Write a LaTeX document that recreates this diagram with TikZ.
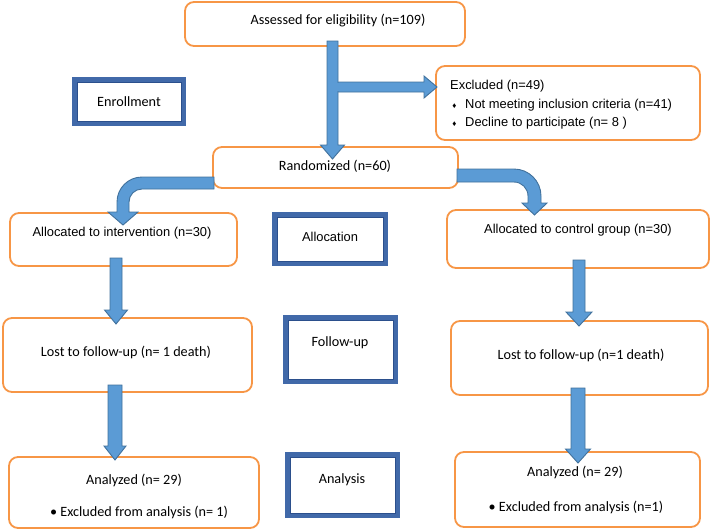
\documentclass[tikz,border=0pt]{standalone}
\usepackage{fontspec}
\setmainfont{Carlito}
\newfontfamily\arialf{Liberation Sans}
\usetikzlibrary{calc}
\definecolor{orng}{HTML}{F79646}
\definecolor{afill}{HTML}{5B9BD5}
\definecolor{aline}{HTML}{41719C}
\definecolor{pband}{HTML}{4169A9}
\definecolor{pline}{HTML}{2B4F8C}
\newcommand\vblk[7]{%
\path[blk] let \p1=(#1.south), \p2=(#2.north) in
 (#3pt-#4pt, \y1+#6pt) -- (#3pt+#4pt, \y1+#6pt) -- (#3pt+#4pt, \y2-#7pt+14pt) -- (#3pt+#5pt, \y2-#7pt+14pt) -- (#3pt, \y2-#7pt) -- (#3pt-#5pt, \y2-#7pt+14pt) -- (#3pt-#4pt, \y2-#7pt+14pt) -- cycle;}
\newcommand\pinner[1]{\draw[pline, line width=0.8pt] ($(#1.north west)+(2.2,2.2)$) rectangle ($(#1.south east)+(-2.2,-2.2)$);}
\begin{document}
\begin{tikzpicture}[x=1pt,y=-1pt,
 obox/.style={draw=orng, line width=1.8pt, rounded corners=9pt, fill=white, anchor=north west, inner sep=0, outer sep=0},
 pbox/.style={draw=pband, line width=5.5pt, fill=white, inner sep=0, outer sep=0, anchor=north west},
 txt/.style={inner sep=0, font=\fontsize{14.2}{16}\selectfont},
 atxt/.style={inner sep=0, font=\arialf\fontsize{12.9}{15}\selectfont},
 blk/.style={fill=afill, draw=aline, line width=0.9pt, line join=miter}]
\useasboundingbox (0,0) rectangle (712,531);
% process boxes
\node[obox, minimum width=280, minimum height=44] (assess) at (185,2) {};
\node[obox, minimum width=264, minimum height=74] (excl) at (436,66) {};
\node[obox, minimum width=245, minimum height=41] (rand) at (213,147) {};
\node[obox, minimum width=227, minimum height=53] (int) at (10,213) {};
\node[obox, minimum width=262, minimum height=58] (ctrl) at (447,210) {};
\node[obox, minimum width=249, minimum height=74] (lostL) at (3,318) {};
\node[obox, minimum width=257, minimum height=74] (lostR) at (451,321) {};
\node[obox, minimum width=250, minimum height=71] (anaL) at (9,457) {};
\node[obox, minimum width=245, minimum height=75] (anaR) at (455,452) {};
% phase boxes
\node[pbox, minimum width=108.5, minimum height=43.5] (enroll) at (74.75,79.75) {};
\node[pbox, minimum width=110.5, minimum height=48.5] (alloc) at (274.75,214.75) {};
\node[pbox, minimum width=109.5, minimum height=63.5] (fu) at (285.75,317.75) {};
\node[pbox, minimum width=109.5, minimum height=60.5] (anab) at (287.75,454.75) {};
\pinner{enroll}\pinner{alloc}\pinner{fu}\pinner{anab}
% block arrows
\path[blk] let \p2=(excl.west) in (330pt,-82pt) -- (\x2-12pt,-82pt) -- (\x2-12pt,-76pt) -- (\x2+1pt,-87pt) -- (\x2-12pt,-98pt) -- (\x2-12pt,-92pt) -- (330pt,-92pt) -- cycle;
\vblk{assess}{rand}{332.5}{5.5}{12}{5}{12}
\fill[afill] (333,82.6) rectangle (339,91.4);
\vblk{int}{lostL}{116}{6}{11.5}{8}{6}
\vblk{ctrl}{lostR}{579}{6}{13}{8}{5}
\vblk{lostL}{anaL}{115}{7}{11}{7}{3}
\vblk{lostR}{anaR}{578}{7}{12.5}{7}{11}
\path[blk] let \p1=(rand.west), \p2=(int.north) in
 (\x1+1pt,-177pt) -- (142pt,-177pt) .. controls (128.2pt,-177pt) and (117pt,-188.2pt) .. (117pt,-202pt)
 -- (117pt,\y2+1pt) -- (108pt,\y2+1pt) -- (123pt,\y2-12pt) -- (138pt,\y2+1pt) -- (129pt,\y2+1pt)
 -- (129pt,-202pt) .. controls (129pt,-194.8pt) and (134.8pt,-189pt) .. (142pt,-189pt) -- (\x1+1pt,-189pt) -- cycle;
\path[blk] let \p1=(rand.east), \p2=(ctrl.north) in
 (\x1-1pt,-169pt) -- (514pt,-169pt) .. controls (528.9pt,-169pt) and (541pt,-181.1pt) .. (541pt,-196pt)
 -- (541pt,\y2+7pt) -- (547pt,\y2+7pt) -- (534.5pt,\y2-5pt) -- (522pt,\y2+7pt) -- (528pt,\y2+7pt)
 -- (528pt,-196pt) .. controls (528pt,-188.3pt) and (521.7pt,-182pt) .. (514pt,-182pt) -- (\x1-1pt,-182pt) -- cycle;
% texts
\node[txt] (assess-t) at (338,21) {Assessed for eligibility (n=109)};
\node[atxt, anchor=west] (excl-t1) at (450,86) {Excluded (n=49)};
\node[atxt, anchor=west] (excl-t2) at (450,105) {\makebox[15pt][l]{\,{\fontsize{8}{8}\selectfont ♦}}Not meeting inclusion criteria (n=41)};
\node[atxt, anchor=west] (excl-t3) at (450,123) {\makebox[15pt][l]{\,{\fontsize{8}{8}\selectfont ♦}}Decline to participate (n= 8 )};
\node[txt] (enroll-t) at (129,102) {Enrollment};
\node[txt] (rand-t) at (335,166) {Randomized (n=60)};
\node[atxt] (int-t) at (122,233) {Allocated to intervention (n=30)};
\node[atxt] (alloc-t) at (330,237) {Allocation};
\node[atxt] (ctrl-t) at (578,230) {Allocated to control group (n=30)};
\node[txt] (lostL-t) at (126,352) {Lost to follow-up (n= 1 death)};
\node[txt] (fu-t) at (340,343) {Follow-up};
\node[txt] (lostR-t) at (581,355) {Lost to follow-up (n=1 death)};
\node[txt] (anaL-t1) at (134,480) {Analyzed (n= 29)};
\node[txt] (anaL-t2) at (139,512) {\textbullet\ Excluded from analysis (n= 1)};
\node[txt] (anab-t) at (342,480) {Analysis};
\node[txt] (anaR-t1) at (575,472) {Analyzed (n= 29)};
\node[txt] (anaR-t2) at (576,507) {\textbullet\ Excluded from analysis (n=1)};
\end{tikzpicture}
\end{document}
